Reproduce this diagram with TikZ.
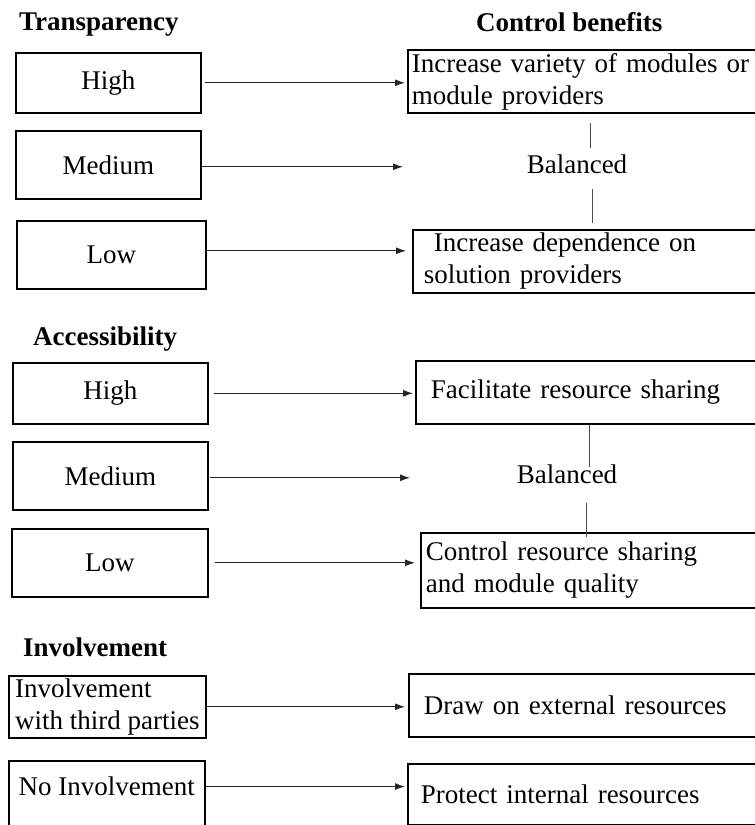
\documentclass[tikz,border=0pt]{standalone}
\usepackage{fontspec}
\setmainfont{Liberation Serif}
\usetikzlibrary{arrows.meta}

\begin{document}
\begin{tikzpicture}[x=1pt,y=-1pt,
    font=\fontsize{27}{32}\selectfont,
    hdr/.style={anchor=base west,inner sep=0pt,font=\fontsize{27}{32}\selectfont\bfseries},
    lbox/.style={draw,line width=1.6pt,anchor=north west,inner sep=0pt},
    rbox/.style={draw,line width=1.6pt,anchor=north west,align=left,text width=380pt},
    arr/.style={-{Latex[length=10pt,width=7pt]},line width=1pt,black!85},
    link/.style={line width=1pt,black!70}]
    
    \clip (0,0) rectangle (755,825);
    
    % Transparency
    \node[hdr] (trans) at (19,30) {Transparency};
    \node[hdr] (ctrl) at (476,31) {Control benefits};
    
    \node[lbox,minimum width=185pt,minimum height=60pt] (th) at (15,52) {High};
    \node[lbox,minimum width=185pt,minimum height=68pt] (tm) at (15,130) {Medium};
    \node[lbox,minimum width=189pt,minimum height=68pt] (tl) at (16,220) {Low};
    
    \node[rbox,minimum height=63pt,inner xsep=4pt] (tr1) at (407,49) {Increase variety of modules or\\module providers};
    \node[rbox,minimum height=60pt,inner xsep=11pt] (tr2) at (412,229) {\hspace*{10pt}Increase dependence on\\solution providers};
    \node[inner sep=0pt] (tb) at (577,164) {Balanced};
    
    \draw[link,shorten <=6pt,shorten >=9pt] ([xshift=13pt]tb.north) -- ([xshift=13pt]tb.north |- tr1.south);
    \draw[link,shorten <=15pt,shorten >=6pt] ([xshift=15pt]tb.south) -- ([xshift=15pt]tb.south |- tr2.north);
    
    \draw[arr,shorten <=3pt,shorten >=2pt] (th.east) -- (th.east -| tr1.west);
    \draw[arr,shorten >=4pt] ([yshift=-2pt]tm.east) -- ([yshift=-2pt]tm.east -| tr1.west);
    \draw[arr,shorten >=6pt] ([yshift=4pt]tl.east) -- ([yshift=4pt]tl.east -| tr2.west);
    
    % Accessibility
    \node[hdr] (access) at (33,345) {Accessibility};
    
    \node[lbox,minimum width=195pt,minimum height=61pt] (ah) at (12,362) {High};
    \node[lbox,minimum width=195pt,minimum height=68pt] (am) at (12,441) {Medium};
    \node[lbox,minimum width=196pt,minimum height=68pt] (al) at (11,528) {Low};
    
    \node[rbox,minimum height=63pt,inner xsep=15pt] (ar1) at (415,360) {Facilitate resource sharing};
    \node[rbox,minimum height=75pt,inner xsep=5pt] (ar2) at (420,532) {Control resource sharing\\and module quality};
    \node[inner sep=0pt] (ab) at (567,474) {Balanced};
    
    \draw[link,shorten <=-3pt] ([xshift=22pt]ab.north) -- ([xshift=22pt]ab.north |- ar1.south);
    \draw[link,shorten <=19pt,shorten >=-5pt] ([xshift=19pt]ab.south) -- ([xshift=19pt]ab.south |- ar2.north);
    
    \draw[arr,shorten <=5pt,shorten >=2pt] (ah.east) -- (ah.east -| ar1.west);
    \draw[arr,shorten <=1pt,shorten >=5pt] ([yshift=-2pt]am.east) -- ([yshift=-2pt]am.east -| ar1.west);
    \draw[arr,shorten <=6pt,shorten >=5pt] (al.east) -- (al.east -| ar2.west);
    
    % Involvement
    \node[hdr] (invol) at (23,656) {Involvement};
    
    \node[lbox,minimum width=197pt,minimum height=62pt,align=left] (iw) at (8,675) {Involvement\\with third parties};
    \node[lbox,minimum width=196pt,inner ysep=16pt,text depth=60pt] (in) at (8,760) {No Involvement};
    
    \node[rbox,minimum height=63pt,inner xsep=15pt] (ir1) at (408,673) {Draw on external resources};
    \node[rbox,minimum height=61pt,inner xsep=13pt] (ir2) at (407,763) {Protect internal resources};
    
    \draw[arr,shorten >=3pt] (iw.east) -- (iw.east -| ir1.west);
    \draw[arr,shorten >=2pt] ([yshift=9pt]in.base east) -- ([yshift=9pt]in.base east -| ir2.west);
    
\end{tikzpicture}
\end{document}
